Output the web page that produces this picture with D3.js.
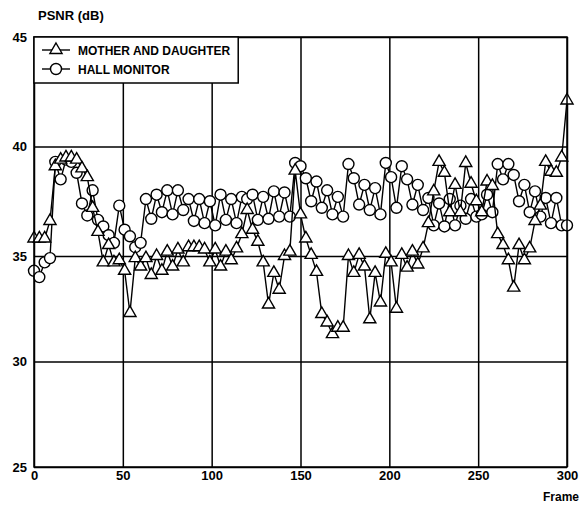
<!DOCTYPE html>
<html>
<head>
<meta charset="utf-8">
<script src="https://cdn.jsdelivr.net/npm/d3@7"></script>
<style>
  body { margin: 0; background: #fff; }
  text { font-family: "Liberation Sans", Arial, sans-serif; font-weight: bold; fill: #000; }
</style>
</head>
<body>
<div id="chart"></div>
<script>
// frames are every 3rd frame, 0..300
var frames = d3.range(0, 301, 3);

var motherDaughter = [
  35.8, 35.8, 35.8, 36.6, 39.1, 39.4, 39.5, 39.5, 39.4, 39.0,
  38.6, 37.2, 36.1, 34.7, 35.5, 34.7, 34.8, 34.3, 32.3, 34.9,
  34.5, 34.9, 34.1, 35.0, 34.3, 35.2, 34.5, 35.3, 34.7, 35.4,
  35.4, 35.4, 35.3, 34.7, 35.3, 34.5, 35.2, 34.8, 35.35, 36.0,
  37.1, 36.2, 35.65, 34.7, 32.7, 34.2, 33.4, 35.0, 35.2, 38.9,
  36.9, 35.8, 35.05, 34.25, 32.25, 31.85, 31.3, 31.6, 31.6, 35.0,
  34.2, 35.05, 34.5, 32.0, 34.2, 32.8, 35.1, 34.7, 32.5, 35.05,
  34.45, 35.2, 34.6, 35.35, 36.5, 37.95, 39.3, 38.8, 37.0, 38.25,
  37.0, 39.25, 38.3, 37.5, 37.0, 38.4, 38.2, 36.0, 35.5, 34.8,
  33.5, 35.5, 34.8, 35.35, 36.6, 37.3, 39.3, 38.85, 38.8, 39.5,
  42.1
];

var hallMonitor = [
  34.3, 34.0, 34.7, 34.9, 39.3, 38.5, 39.4, 39.3, 38.8, 37.4,
  36.85, 38.0, 36.65, 36.35, 35.95, 35.6, 37.3, 36.2, 35.9, 35.4,
  35.6, 37.6, 36.7, 37.8, 37.0, 38.0, 36.9, 38.0, 37.1, 37.6,
  36.6, 37.6, 36.5, 37.5, 36.4, 37.8, 36.65, 37.6, 36.5, 37.7,
  37.6, 37.8, 36.65, 37.7, 36.7, 37.95, 36.8, 37.9, 36.8, 39.25,
  39.1, 38.55, 37.5, 38.4, 37.2, 38.0, 36.9, 37.7, 36.8, 39.2,
  38.55, 37.35, 38.25, 37.1, 38.1, 36.9, 39.25, 38.6, 37.2, 39.1,
  38.5, 37.35, 38.25, 37.1, 37.65, 36.4, 37.4, 36.35, 37.6, 36.4,
  37.3, 36.7, 37.6, 36.8, 36.9, 37.8, 37.0, 39.2, 38.5, 39.2,
  38.7, 37.5, 38.25, 37.0, 37.95, 36.8, 37.65, 36.5, 37.65, 36.4,
  36.4
];

var xTicks = [0, 50, 100, 150, 200, 250, 300];
var yTicks = [25, 30, 35, 40, 45];
var seriesNames = ["MOTHER AND DAUGHTER", "HALL MONITOR"];

var w = 582;
var h = 509;
var margin = {top: 37, right: 15, bottom: 42, left: 34};
var plotW = w - margin.left - margin.right;
var plotH = h - margin.top - margin.bottom;

var svg = d3.select("#chart")
    .append("svg")
    .attr("width", w)
    .attr("height", h);

var g = svg.append("g")
    .attr("transform", "translate(" + margin.left + "," + margin.top + ")");

var xScale = d3.scaleLinear().domain([0, 300]).range([0, plotW]);
// the scanned axis is slightly uneven, so use a three-point domain
var yScale = d3.scaleLinear().domain([25, 35, 45]).range([plotH, 219, 0]);

// grid + ticks
var xAxis = d3.axisBottom(xScale).tickValues(xTicks).tickSize(-plotH).tickPadding(4);
var yAxis = d3.axisLeft(yScale).tickValues(yTicks).tickSize(-plotW).tickPadding(7);

var gx = g.append("g")
    .attr("transform", "translate(0," + plotH + ")")
    .call(xAxis);
var gy = g.append("g").call(yAxis);

[gx, gy].forEach(function(ax) {
    ax.select(".domain").remove();
    ax.selectAll("line").attr("stroke", "#000").attr("stroke-width", 1.5);
    ax.selectAll("text").attr("font-size", "13px").style("font-weight", "bold")
      .style("font-family", "'Liberation Sans', Arial, sans-serif").attr("fill", "#000");
});

// series
var line = d3.line()
    .x(function(d) { return xScale(d[0]); })
    .y(function(d) { return yScale(d[1]); });

var md = frames.map(function(f, i) { return [f, motherDaughter[i]]; });
var hm = frames.map(function(f, i) { return [f, hallMonitor[i]]; });

var tri = d3.symbol().type(d3.symbolTriangle).size(64);

function drawSeries(data, kind) {
    g.append("path")
        .datum(data)
        .attr("fill", "none")
        .attr("stroke", "#000")
        .attr("stroke-width", 1.4)
        .attr("d", line);

    if (kind === "tri") {
        g.selectAll(null)
            .data(data)
            .enter()
            .append("path")
            .attr("d", tri)
            .attr("transform", function(d) { return "translate(" + xScale(d[0]) + "," + yScale(d[1]) + ")"; })
            .attr("fill", "#fff")
            .attr("stroke", "#000")
            .attr("stroke-width", 1.4);
    } else {
        g.selectAll(null)
            .data(data)
            .enter()
            .append("circle")
            .attr("cx", function(d) { return xScale(d[0]); })
            .attr("cy", function(d) { return yScale(d[1]); })
            .attr("r", 5.5)
            .attr("fill", "#fff")
            .attr("stroke", "#000")
            .attr("stroke-width", 1.4);
    }
}

drawSeries(hm, "circ");
drawSeries(md, "tri");

g.append("rect")
    .attr("width", plotW)
    .attr("height", plotH)
    .attr("fill", "none")
    .attr("stroke", "#000")
    .attr("stroke-width", 1.5);

// axis titles
svg.append("text")
    .attr("x", 38)
    .attr("y", 20)
    .attr("font-size", "13px")
    .text("PSNR (dB)");

svg.append("text")
    .attr("x", 579)
    .attr("y", 501)
    .attr("text-anchor", "end")
    .attr("font-size", "12px")
    .text("Frame");

// legend
var lg = svg.append("g").attr("transform", "translate(" + margin.left + "," + margin.top + ")");
var box = lg.append("rect")
    .attr("height", 46)
    .attr("fill", "#fff")
    .attr("stroke", "#000")
    .attr("stroke-width", 1.5);

var maxEnd = 0;
seriesNames.forEach(function(name, i) {
    var yy = 13 + i * 19;
    lg.append("line")
        .attr("x1", 8).attr("x2", 36)
        .attr("y1", yy).attr("y2", yy)
        .attr("stroke", "#000").attr("stroke-width", 1.4);
    if (i === 0) {
        lg.append("path")
            .attr("d", tri)
            .attr("transform", "translate(22," + yy + ")")
            .attr("fill", "#fff").attr("stroke", "#000").attr("stroke-width", 1.4);
    } else {
        lg.append("circle")
            .attr("cx", 22).attr("cy", yy).attr("r", 5.5)
            .attr("fill", "#fff").attr("stroke", "#000").attr("stroke-width", 1.4);
    }
    var t = lg.append("text")
        .attr("x", 44)
        .attr("y", yy + 5)
        .attr("font-size", "12px")
        .text(name);
    maxEnd = Math.max(maxEnd, 44 + t.node().getComputedTextLength());
});
box.attr("width", maxEnd + 8);
</script>
</body>
</html>
